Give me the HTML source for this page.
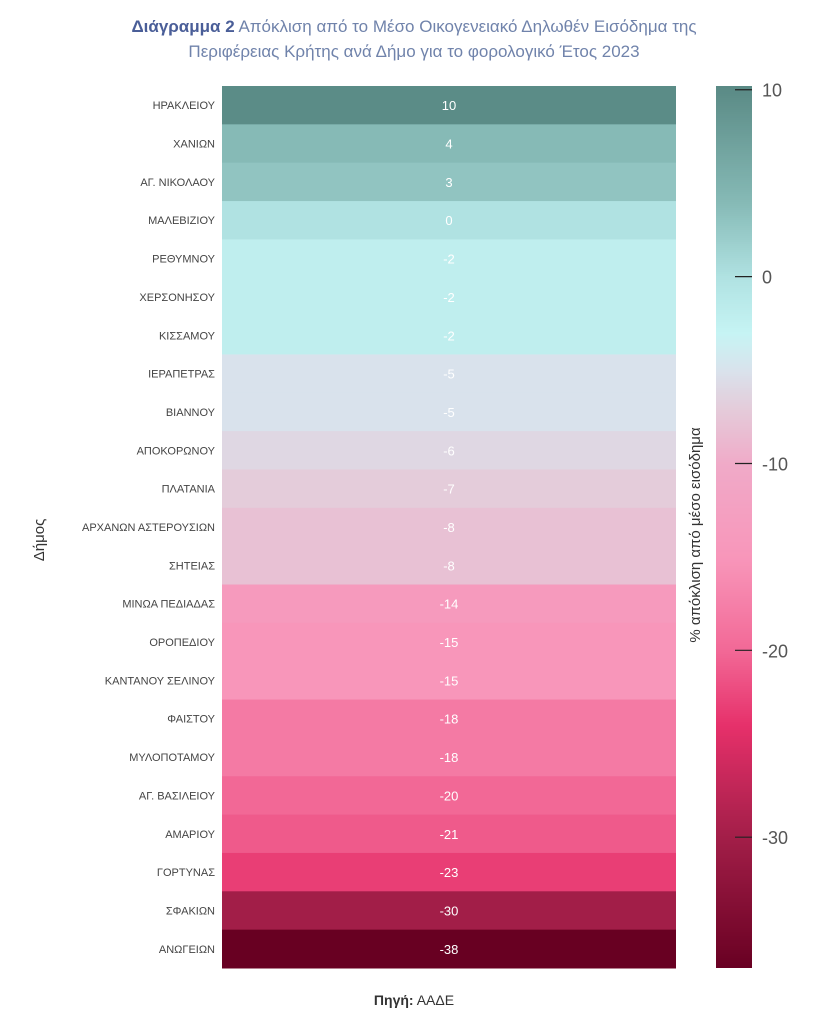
<!DOCTYPE html>
<html><head><meta charset="utf-8"><style>
body{margin:0;background:#fff;width:839px;height:1024px;overflow:hidden;font-family:"Liberation Sans","DejaVu Sans",sans-serif}
</style></head><body>
<svg id="chart" width="839" height="1024" xmlns="http://www.w3.org/2000/svg">
<text x="414" y="32" text-anchor="middle" font-size="17" fill="#7083ab"><tspan font-weight="bold" fill="#4a5e98">Διάγραμμα  2</tspan> Απόκλιση από το Μέσο Οικογενειακό Δηλωθέν Εισόδημα της</text>
<text x="414" y="57" text-anchor="middle" font-size="17" fill="#7083ab">Περιφέρειας Κρήτης ανά Δήμο για το φορολογικό Έτος 2023</text>
<text transform="translate(44,540) rotate(-90)" text-anchor="middle" font-size="15" fill="#333">Δήμος</text>
<text transform="translate(700,535) rotate(-90)" text-anchor="middle" font-size="15" fill="#333">% απόκλιση από μέσο εισόδημα</text>
<text x="414" y="1005" text-anchor="middle" font-size="14" fill="#333"><tspan font-weight="bold">Πηγή:</tspan> ΑΑΔΕ</text>
<g id="cells"></g><g id="cbar"></g>
</svg>
<script>
const categories=["ΗΡΑΚΛΕΙΟΥ","ΧΑΝΙΩΝ","ΑΓ. ΝΙΚΟΛΑΟΥ","ΜΑΛΕΒΙΖΙΟΥ","ΡΕΘΥΜΝΟΥ","ΧΕΡΣΟΝΗΣΟΥ","ΚΙΣΣΑΜΟΥ","ΙΕΡΑΠΕΤΡΑΣ","ΒΙΑΝΝΟΥ","ΑΠΟΚΟΡΩΝΟΥ","ΠΛΑΤΑΝΙΑ","ΑΡΧΑΝΩΝ ΑΣΤΕΡΟΥΣΙΩΝ","ΣΗΤΕΙΑΣ","ΜΙΝΩΑ ΠΕΔΙΑΔΑΣ","ΟΡΟΠΕΔΙΟΥ","ΚΑΝΤΑΝΟΥ ΣΕΛΙΝΟΥ","ΦΑΙΣΤΟΥ","ΜΥΛΟΠΟΤΑΜΟΥ","ΑΓ. ΒΑΣΙΛΕΙΟΥ","ΑΜΑΡΙΟΥ","ΓΟΡΤΥΝΑΣ","ΣΦΑΚΙΩΝ","ΑΝΩΓΕΙΩΝ"];
const values=[10,4,3,0,-2,-2,-2,-5,-5,-6,-7,-8,-8,-14,-15,-15,-18,-18,-20,-21,-23,-30,-38];
const cbarTicks=[10,0,-10,-20,-30];
const NS="http://www.w3.org/2000/svg";
const stops=[[10.2,[90,138,133]],[4,[134,186,182]],[0,[176,226,226]],[-3,[198,244,244]],[-5,[217,226,236]],[-7,[228,204,218]],[-10,[240,170,200]],[-15,[248,150,186]],[-20,[242,104,150]],[-24,[230,48,106]],[-30,[162,30,72]],[-37,[104,0,34]]];
function color(v){
 if(v>=stops[0][0])return rgb(stops[0][1]);
 for(let i=0;i<stops.length-1;i++){const a=stops[i],b=stops[i+1];
  if(v<=a[0]&&v>=b[0]){const t=(a[0]-v)/(a[0]-b[0]);return rgb(a[1].map((c,k)=>Math.round(c+(b[1][k]-c)*t)));}}
 return rgb(stops[stops.length-1][1]);}
function rgb(a){return "rgb("+a.join(",")+")";}
const x0=222,x1=676,yTop=86,yBot=968,rowH=(yBot-yTop)/categories.length;
function yRow(i){return yTop+i*rowH;}
const cells=document.getElementById("cells");
categories.forEach((c,i)=>{
 const r=document.createElementNS(NS,"rect");
 r.setAttribute("x",x0);r.setAttribute("y",yRow(i));r.setAttribute("width",x1-x0);r.setAttribute("height",rowH+0.5);
 r.setAttribute("fill",color(values[i]));
 
 
 cells.appendChild(r);
 const l=document.createElementNS(NS,"text");
 l.setAttribute("x",215);l.setAttribute("y",yRow(i)+rowH/2+4);l.setAttribute("text-anchor","end");
 l.setAttribute("font-size","11");l.setAttribute("fill","#444");l.textContent=c;
 
 
 cells.appendChild(l);
 const t=document.createElementNS(NS,"text");
 t.setAttribute("x",(x0+x1)/2);t.setAttribute("y",yRow(i)+rowH/2+5);t.setAttribute("text-anchor","middle");
 t.setAttribute("font-size","13");t.setAttribute("fill","#fff");t.textContent=values[i];
 
 
 cells.appendChild(t);
});
const vmax=10.2,vmin=-37,cx=716,cw=36;
function yC(v){return yTop+(vmax-v)/(vmax-vmin)*(yBot-yTop);}
const cb=document.getElementById("cbar");
for(let y=yTop;y<yBot;y+=2){
 const v=vmax-(y-yTop)/(yBot-yTop)*(vmax-vmin);
 const r=document.createElementNS(NS,"rect");
 r.setAttribute("x",cx);r.setAttribute("y",y);r.setAttribute("width",cw);r.setAttribute("height",Math.min(2.5,yBot-y));r.setAttribute("fill",color(v));
 
 
 cb.appendChild(r);
}
cbarTicks.forEach(v=>{
 const ln=document.createElementNS(NS,"line");
 ln.setAttribute("x1",cx+19);ln.setAttribute("x2",cx+cw);ln.setAttribute("y1",yC(v));ln.setAttribute("y2",yC(v));
 ln.setAttribute("stroke","#222");ln.setAttribute("stroke-width","1.2");
 
 
 cb.appendChild(ln);
 const t=document.createElementNS(NS,"text");
 t.setAttribute("x",cx+cw+10);t.setAttribute("y",yC(v)+7);t.setAttribute("font-size","18");t.setAttribute("fill","#555");
 t.textContent=v===0?"0":(v<0?"-"+Math.abs(v):v);
 
 
 cb.appendChild(t);
});
</script>
</body></html>
